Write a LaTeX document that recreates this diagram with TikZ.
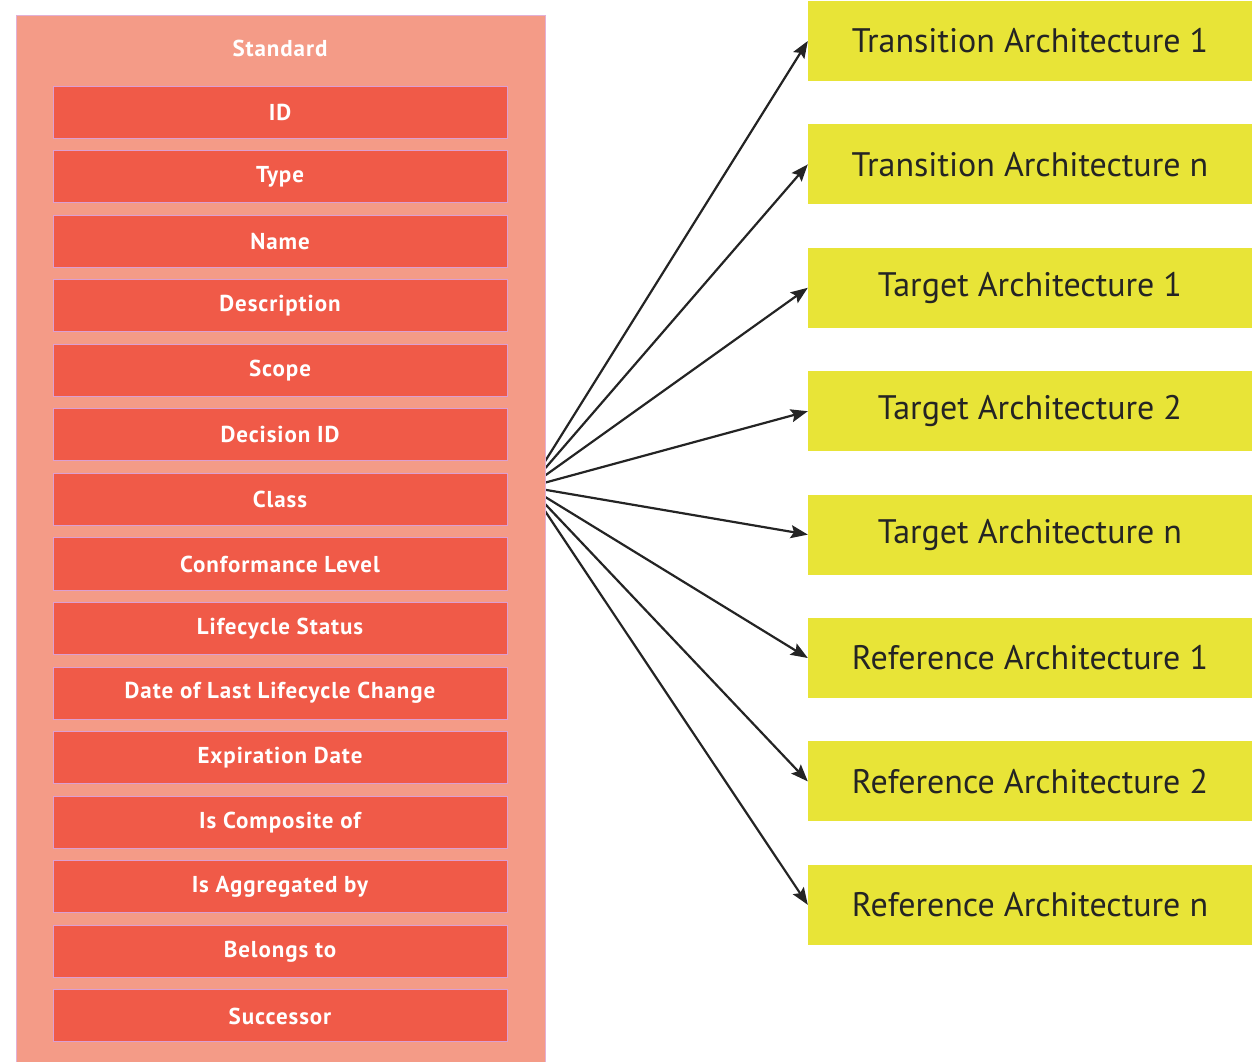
\documentclass[tikz,border=0pt]{standalone}
\usepackage{fontspec}
\newfontfamily\rowfont[LetterSpace=4]{PT Sans}
\newfontfamily\archfont{PT Sans}
\usetikzlibrary{arrows.meta}
\pgfdeclarelayer{background}
\pgfsetlayers{background,main}
\definecolor{contfill}{HTML}{F49B87}
\definecolor{contline}{HTML}{E2B0D6}
\definecolor{rowfill}{HTML}{F05A48}
\definecolor{rowline}{HTML}{DC9FD2}
\definecolor{yel}{HTML}{E8E437}
\definecolor{ink}{HTML}{242424}
\tikzset{
  container/.style={draw=contline, line width=1.2pt, fill=contfill},
  rowbox/.style={draw=rowline, line width=1pt, fill=rowfill, minimum width=454pt, minimum height=52pt,
    inner sep=0pt, text=white, font=\rowfont\bfseries\fontsize{23}{25}\selectfont},
  header/.style={text=white, font=\rowfont\bfseries\fontsize{23}{25}\selectfont, inner sep=0pt},
  archbox/.style={fill=yel, minimum width=444pt, minimum height=80pt, inner sep=0pt, text=ink,
    font=\archfont\fontsize{34}{36}\selectfont},
  conn/.style={draw=ink, line width=2.2pt, -{Stealth[length=17pt,width=13pt,inset=3pt]}}
}
\begin{document}
\begin{tikzpicture}[x=1pt,y=-1pt]
\useasboundingbox (0,0) rectangle (1256,1061);
\node[container, minimum width=529pt, minimum height=1050pt, anchor=north west, inner sep=0pt] (std) at (16,15) {};
\node[header] (stdlabel) at (280,48) {Standard};
\foreach \t [count=\i from 0] in {ID,Type,Name,Description,Scope,Decision ID,Class,Conformance Level,Lifecycle Status,Date of Last Lifecycle Change,Expiration Date,Is Composite of,Is Aggregated by,Belongs to,Successor}{
  \node[rowbox] (r\i) at (280,{112+64.57*\i}) {\t};
}
\foreach \t [count=\i from 0] in {Transition Architecture 1,Transition Architecture n,Target Architecture 1,Target Architecture 2,Target Architecture n,Reference Architecture 1,Reference Architecture 2,Reference Architecture n}{
  \node[archbox] (a\i) at (1030,{41+123.4*\i}) {\t};
}
\coordinate (src) at (529,487);
\begin{pgfonlayer}{background}
\foreach \i in {0,...,7}{
  \draw[conn] (src) -- (a\i.west);
}
\end{pgfonlayer}
\end{tikzpicture}
\end{document}
